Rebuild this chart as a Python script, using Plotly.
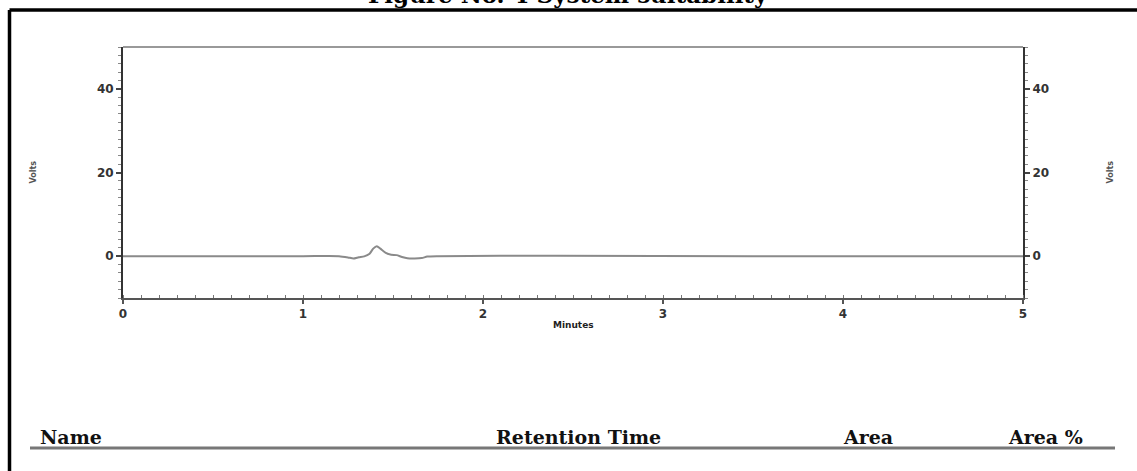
import plotly.graph_objects as go

# ---- data ----
time_min = [0.0, 1.00, 1.20, 1.25, 1.28, 1.31, 1.34, 1.37, 1.39, 1.41, 1.43, 1.46, 1.49, 1.52, 1.55, 1.58, 1.62, 1.66, 1.69, 1.75, 2.40, 3.50, 5.0]
volts    = [0.0, 0.00, 0.00, -0.30, -0.55, -0.25, -0.05, 0.60, 1.80, 2.40, 1.80, 0.80, 0.35, 0.25, -0.20, -0.50, -0.55, -0.45, -0.10, 0.00, 0.10, 0.00, 0.0]

x_ticks = [0, 1, 2, 3, 4, 5]
y_ticks = [0, 20, 40]
table_headers = ["Name", "Retention Time", "Area", "Area %"]
title_text = "Figure No. 4 System suitability"

W, H = 1137, 471
L, R, T, B = 123, 1023, 47, 298  # plot area in pixels

def px(xp):
    return (xp - L) / (R - L)

def py(yp):
    return (B - yp) / (B - T)

fig = go.Figure()
fig.add_trace(go.Scatter(x=time_min, y=volts, mode="lines",
                         line=dict(color="#8a8a8a", width=2, shape="spline", smoothing=0.6),
                         hoverinfo="skip", showlegend=False))
fig.add_trace(go.Scatter(x=time_min, y=volts, mode="lines", yaxis="y2",
                         line=dict(color="rgba(0,0,0,0)", width=0),
                         hoverinfo="skip", showlegend=False))

tickfont = dict(family="DejaVu Sans", size=12, color="#333333", weight="bold")

fig.update_layout(
    width=W, height=H,
    margin=dict(l=L, r=W - R, t=T, b=H - B, pad=0),
    paper_bgcolor="white", plot_bgcolor="white",
    xaxis=dict(range=[0, 5], tickvals=x_ticks, ticktext=[str(v) for v in x_ticks],
               showgrid=False, zeroline=False, showline=True, linecolor="#555555", linewidth=2,
               mirror=False, ticks="outside", ticklen=4, tickwidth=1.5, tickcolor="#555555",
               tickfont=tickfont,
               minor=dict(dtick=0.1, ticks="inside", ticklen=3, tickwidth=1, tickcolor="#777777")),
    yaxis=dict(range=[-10, 50], tickvals=y_ticks, showgrid=False, zeroline=False,
               showline=True, linecolor="#333333", linewidth=2, ticks="outside", ticklen=5,
               tickwidth=1.5, tickcolor="#444444", tickfont=tickfont,
               minor=dict(dtick=2, ticks="outside", ticklen=3, tickwidth=1, tickcolor="#888888")),
    yaxis2=dict(range=[-10, 50], tickvals=y_ticks, overlaying="y", side="right",
                showgrid=False, zeroline=False, showline=True, linecolor="#333333", linewidth=2,
                ticks="outside", ticklen=5, tickwidth=1.5, tickcolor="#444444", tickfont=tickfont,
                minor=dict(dtick=2, ticks="outside", ticklen=3, tickwidth=1, tickcolor="#888888")),
)

shapes = []
# top frame line of plot
shapes.append(dict(type="line", xref="paper", yref="paper", x0=0, x1=1, y0=1, y1=1,
                   line=dict(color="#999999", width=2)))
# outer black frame
shapes.append(dict(type="line", xref="paper", yref="paper", x0=px(9.5), x1=px(1140), y0=py(10), y1=py(10),
                   line=dict(color="black", width=3.5)))
shapes.append(dict(type="line", xref="paper", yref="paper", x0=px(9.5), x1=px(9.5), y0=py(10), y1=py(475),
                   line=dict(color="black", width=3.5)))
# table header underline
shapes.append(dict(type="line", xref="paper", yref="paper", x0=px(30), x1=px(1115), y0=py(448), y1=py(448),
                   line=dict(color="#777777", width=3)))
fig.update_layout(shapes=shapes)

annotations = []
# title at top, clipped by the page edge as in the reference
annotations.append(dict(text="<b>" + title_text + "</b>", xref="paper", yref="paper",
                        x=px(568), y=py(0), xanchor="center", yanchor="middle", yshift=5,
                        showarrow=False, font=dict(family="DejaVu Serif", size=23, color="black")))
# y axis titles
for xp in (33, 1110):
    annotations.append(dict(text="<b>Volts</b>", xref="paper", yref="paper", x=px(xp), y=py(172.5),
                            xanchor="center", yanchor="middle", textangle=-90, showarrow=False,
                            font=dict(family="DejaVu Sans", size=8, color="#555555")))
# x axis title
annotations.append(dict(text="<b>Minutes</b>", xref="paper", yref="paper", x=px(573), y=py(325),
                        xanchor="center", yanchor="middle", showarrow=False,
                        font=dict(family="DejaVu Sans", size=9, color="#222222")))
# table headers
header_x = [71, 578, 868, 1045]
for txt, xc in zip(table_headers, header_x):
    annotations.append(dict(text="<b>" + txt + "</b>", xref="paper", yref="paper", x=px(xc), y=py(437),
                            xanchor="center", yanchor="middle", showarrow=False,
                            font=dict(family="DejaVu Serif", size=19, color="#111111")))
fig.update_layout(annotations=annotations)

fig.write_html("out.html", config={"displayModeBar": False},
               post_script="document.body.style.margin='0';")
